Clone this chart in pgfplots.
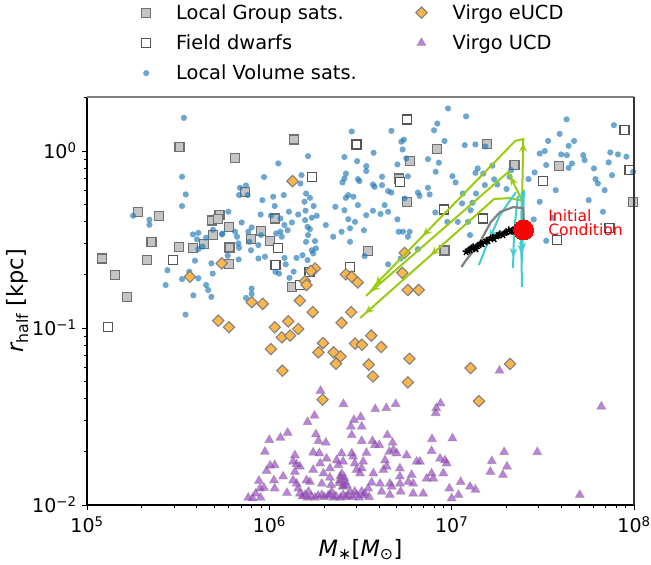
\documentclass[border=0pt]{standalone}
\usepackage{fontspec}
\setmainfont{DejaVu Sans}
\usepackage{pgfplots}
\pgfplotsset{compat=1.18}
\usetikzlibrary{decorations.markings,arrows.meta}

\definecolor{lvblue}{HTML}{1F77B4}
\definecolor{lggray}{HTML}{C4C4C4}
\definecolor{lgedge}{HTML}{707070}
\definecolor{fdedge}{HTML}{555555}
\definecolor{eucd}{HTML}{FDB64A}
\definecolor{ucd}{HTML}{9932CC}
\definecolor{trkgreen}{HTML}{99CC11}
\definecolor{trkcyan}{HTML}{40CCD0}

\newcommand\ah{\arrow{Stealth[length=9pt,width=7.5pt]}}

\pgfplotsset{
  lgsat/.style={only marks, mark=square*, mark size=4.5pt, mark options={fill=lggray, draw=lgedge, line width=1.3pt}},
  fdwarf/.style={only marks, mark=square*, mark size=4.5pt, mark options={fill=white, draw=fdedge, line width=1.3pt}},
  lvsat/.style={only marks, mark=*, mark size=3.1pt, mark options={fill=lvblue, fill opacity=0.65, draw opacity=0}},
  veucd/.style={only marks, mark=square*, mark size=4pt, mark options={rotate=45, fill=eucd, draw=gray, line width=1.1pt}},
  vucd/.style={only marks, mark=triangle*, mark size=5.1pt, mark options={fill=ucd, fill opacity=0.62, draw=gray, draw opacity=0.45, line width=0.9pt}},
}

\begin{document}
\begin{tikzpicture}
\begin{axis}[
  at={(0,0)}, anchor=south west,
  scale only axis, width=547pt, height=408pt,
  xmode=log, ymode=log,
  xmin=1e5, xmax=1e8, ymin=1e-2, ymax=2.02,
  clip mode=individual,
  axis line style={draw=none},
  tick pos=left, tick align=outside,
  major tick length=5pt, minor tick length=3pt,
  tick style={black, line width=1pt},
  xtick={1e5,1e6,1e7,1e8},
  xticklabels={10\textsuperscript{5},10\textsuperscript{6},10\textsuperscript{7},10\textsuperscript{8}},
  ytick={1e-2,1e-1,1},
  yticklabels={10\textsuperscript{−2},10\textsuperscript{−1},10\textsuperscript{0}},
  minor xtick={2e5,3e5,4e5,5e5,6e5,7e5,8e5,9e5,2e6,3e6,4e6,5e6,6e6,7e6,8e6,9e6,2e7,3e7,4e7,5e7,6e7,7e7,8e7,9e7},
  minor ytick={2e-2,3e-2,4e-2,5e-2,6e-2,7e-2,8e-2,9e-2,0.2,0.3,0.4,0.5,0.6,0.7,0.8,0.9,2},
  xticklabel style={font=\fontsize{19}{19}\selectfont, yshift=-3pt},
  yticklabel style={font=\fontsize{19}{19}\selectfont, xshift=-2pt},
  xlabel={{\itshape M}\textsubscript{∗}[{\itshape M}\textsubscript{⊙}]},
  ylabel={{\itshape r}\textsubscript{half} [kpc]},
  xlabel style={font=\fontsize{22.5}{23}\selectfont, at={(axis description cs:0.5,-0.127)}, anchor=base},
  ylabel style={font=\fontsize{22.5}{23}\selectfont, at={(axis description cs:-0.1164,0.5)}, anchor=base},
  legend columns=2, legend cell align=left,
  legend style={at={(0.0996,1.232)}, anchor=north west, draw=none, fill=none,
    inner xsep=0pt, inner ysep=0pt, row sep=10pt,
    font=\fontsize{19.4}{23}\selectfont,
    /tikz/every odd column/.append style={column sep=23.5pt},
    /tikz/every even column/.append style={column sep=57pt}},
]
% legend, row by row as matplotlib fills it column-wise
\addlegendimage{lgsat}\addlegendentry{Local Group sats.}
\addlegendimage{veucd}\addlegendentry{Virgo eUCD}
\addlegendimage{fdwarf}\addlegendentry{Field dwarfs}
\addlegendimage{vucd}\addlegendentry{Virgo UCD}
\addlegendimage{lvsat}\addlegendentry{Local Volume sats.}

% Local Group satellites
\addplot[lgsat, forget plot] table {
x y
1.21e5 0.247
1.43e5 0.199
1.66e5 0.150
1.91e5 0.454
2.48e5 0.431
2.26e5 0.307
2.13e5 0.243
3.20e5 0.287
3.22e5 1.05
6.48e5 0.916
1.37e6 1.16
7.36e5 0.589
5.32e5 0.434
4.83e5 0.405
5.25e5 0.412
6.01e5 0.373
4.89e5 0.335
4.37e5 0.298
3.81e5 0.282
6.04e5 0.285
6.01e5 0.229
7.90e5 0.317
9.00e5 0.353
1.07e6 0.416
1.01e6 0.311
1.33e6 0.171
8.34e6 1.03
1.56e7 1.10
5.93e6 0.877
5.16e6 0.70
5.69e6 0.517
2.21e7 0.833
3.87e7 0.826
3.47e6 0.273
9.15e6 0.274
9.87e7 0.517
};

% Field dwarfs
\addplot[fdwarf, forget plot] table {
x y
2.97e5 0.242
1.71e6 0.716
1.12e6 0.282
1.08e6 0.227
1.47e6 0.175
1.66e6 0.208
2.77e6 0.222
1.30e5 0.101
0.99e5 0.108
0.99e5 0.0778
5.69e6 1.51
8.87e7 1.32
9.46e7 0.780
3.18e7 0.676
9.08e6 0.468
1.49e7 0.416
3.78e7 0.314
7.35e7 0.368
5.22e6 0.670
3.01e6 1.09
};

% Local Volume satellites
\addplot[lvsat, forget plot] table {
x y
3.40e5 1.54
3.32e5 0.716
3.48e5 0.569
3.32e5 0.489
1.79e5 0.431
2.20e5 0.409
2.20e5 0.383
2.76e5 0.212
2.70e5 0.175
3.32e5 0.189
3.64e5 0.208
3.91e5 0.240
4.08e5 0.191
3.83e5 0.153
4.50e5 0.175
4.62e5 0.164
4.81e5 0.150
4.81e5 0.232
4.89e5 0.203
3.81e5 0.338
4.08e5 0.345
4.01e5 0.317
4.50e5 0.324
4.30e5 0.288
4.08e5 0.279
4.91e5 0.359
5.50e5 0.338
5.96e5 0.454
6.49e5 0.350
6.65e5 0.328
6.76e5 0.301
6.82e5 0.284
7.05e5 0.395
6.90e5 0.620
7.45e5 0.639
6.82e5 0.564
7.60e5 0.564
8.00e5 0.370
7.67e5 0.350
7.77e5 0.307
7.93e5 0.275
8.71e5 0.294
9.00e5 0.335
8.96e5 0.438
9.16e5 0.528
9.35e5 0.713
1.02e6 0.431
1.05e6 0.552
1.07e6 0.489
1.12e6 0.851
1.15e6 0.416
1.20e6 0.564
1.21e6 0.382
1.15e6 0.350
1.09e6 0.342
1.17e6 0.328
1.26e6 0.357
1.33e6 0.395
1.28e6 0.454
1.44e6 0.438
1.57e6 0.407
1.58e6 0.460
1.56e6 0.517
1.59e6 0.575
1.67e6 0.544
1.75e6 0.489
1.82e6 0.431
1.71e6 0.420
1.62e6 0.373
1.63e6 0.335
1.67e6 0.362
1.59e6 0.307
1.71e6 0.275
1.78e6 0.310
1.80e6 0.282
1.74e6 0.264
1.50e6 0.731
1.48e6 0.656
1.63e6 0.936
2.04e6 0.382
2.24e6 0.328
2.30e6 0.484
2.58e6 0.463
2.52e6 0.665
2.58e6 0.700
2.63e6 0.746
2.58e6 0.925
2.83e6 1.29
3.03e6 0.877
3.12e6 0.676
2.63e6 0.544
2.71e6 0.564
2.89e6 0.552
2.95e6 0.398
2.71e6 0.412
2.77e6 0.366
2.49e6 0.350
2.77e6 0.307
8.71e5 0.247
9.46e5 0.253
1.21e6 0.249
1.23e6 0.229
1.41e6 0.249
1.52e6 0.258
1.62e6 0.242
1.29e6 0.192
1.36e6 0.208
1.08e6 0.208
1.13e6 0.203
8.00e5 0.167
8.00e5 0.156
7.45e5 0.148
6.79e5 0.244
5.91e5 0.256
5.52e5 0.342
3.47e5 0.119
9.55e6 1.74
1.20e7 1.57
8.34e6 1.43
8.00e6 1.31
4.67e6 1.30
3.73e6 0.978
5.30e6 1.13
5.47e6 1.16
5.38e6 1.02
5.64e6 0.908
5.04e6 0.840
3.40e6 0.822
3.40e6 0.771
3.06e6 0.694
4.15e6 0.716
3.70e6 0.647
3.78e6 0.628
4.15e6 0.642
4.48e6 0.594
4.67e6 0.583
5.52e6 0.540
5.75e6 0.720
6.53e6 0.583
6.67e6 0.558
7.41e6 0.620
7.57e6 0.569
7.41e6 0.900
8.51e6 0.859
8.17e6 0.764
9.14e6 1.14
1.18e7 1.08
1.35e7 1.09
1.53e7 1.06
1.01e7 0.721
1.05e7 0.665
1.15e7 0.575
1.14e7 0.506
1.30e7 0.510
1.36e7 0.575
1.35e7 0.753
1.39e7 0.798
1.49e7 0.746
1.67e7 0.826
1.71e7 0.692
1.78e7 0.647
2.00e7 0.610
2.08e7 0.716
2.12e7 0.780
1.52e7 0.642
8.13e6 0.450
9.46e6 0.398
1.08e7 0.398
1.23e7 0.398
1.27e7 0.463
1.26e7 0.335
6.53e6 0.279
5.25e6 0.247
4.48e6 0.229
3.33e6 0.255
3.30e6 0.357
3.40e6 0.434
3.70e6 0.460
4.07e6 0.441
4.29e6 0.495
4.48e6 0.454
5.04e6 0.411
5.12e6 0.350
5.41e6 0.350
5.88e6 0.350
5.75e6 0.328
3.06e6 0.495
2.64e7 0.694
2.85e7 0.757
3.04e7 0.968
3.24e7 1.00
3.38e7 1.14
3.91e7 1.25
4.27e7 1.51
4.69e7 1.14
4.38e7 1.07
3.99e7 0.957
4.28e7 0.948
3.30e7 0.834
4.57e7 0.851
4.38e7 0.803
3.04e7 0.517
3.72e7 0.601
5.27e7 0.948
5.36e7 0.889
6.03e7 0.798
6.15e7 0.694
6.34e7 0.656
6.90e7 0.601
5.64e7 0.528
7.41e7 0.982
8.17e7 0.957
9.08e7 0.929
7.26e7 0.863
7.57e7 0.731
7.76e7 1.40
6.76e7 0.454
3.30e7 0.311
3.59e7 0.420
2.82e7 0.411
9.90e7 0.764
};

% Virgo eUCDs
\addplot[veucd, forget plot] table {
x y
1.34e6 0.676
5.48e5 0.232
3.67e5 0.195
1.78e6 0.217
1.69e6 0.210
1.57e6 0.184
1.60e6 0.175
2.63e6 0.201
2.83e6 0.195
3.05e6 0.181
8.00e5 0.140
9.20e5 0.137
1.47e6 0.143
5.25e5 0.110
6.01e5 0.101
1.07e6 0.101
1.27e6 0.109
1.17e6 0.0886
1.30e6 0.0906
1.44e6 0.0987
1.02e6 0.0760
1.18e6 0.0574
1.73e6 0.123
1.97e6 0.0822
1.86e6 0.0729
2.25e6 0.0729
2.46e6 0.0692
2.32e6 0.0629
1.96e6 0.0394
2.49e6 0.107
2.81e6 0.123
2.95e6 0.0817
3.62e6 0.0906
3.22e6 0.0805
4.11e6 0.0782
3.51e6 0.0621
3.70e6 0.0533
5.87e6 0.0671
5.75e6 0.0493
1.27e7 0.0594
2.09e7 0.0627
1.41e7 0.0386
5.52e6 0.266
5.36e6 0.205
5.75e6 0.164
6.59e6 0.164
};

% Virgo UCDs
\addplot[vucd, forget plot] table {
x y
7.67e5 0.0110
8.09e5 0.0109
8.95e5 0.0110
8.41e5 0.0116
8.89e5 0.0124
9.34e5 0.0125
8.77e5 0.0137
9.66e5 0.0156
1.01e6 0.0167
1.07e6 0.0168
9.46e5 0.0200
1.00e6 0.0233
1.15e6 0.0240
1.26e6 0.0256
1.06e6 0.0138
1.19e6 0.0145
1.07e6 0.0124
1.25e6 0.0117
1.38e6 0.0191
1.35e6 0.0176
1.41e6 0.0170
1.47e6 0.0165
1.38e6 0.0154
1.35e6 0.0138
1.41e6 0.0132
1.44e6 0.0124
1.47e6 0.0116
1.57e6 0.0114
1.64e6 0.0119
1.67e6 0.0135
1.60e6 0.0138
1.74e6 0.0158
1.74e6 0.0198
1.80e6 0.0251
1.86e6 0.0230
2.04e6 0.0225
1.88e6 0.0196
1.90e6 0.0172
1.98e6 0.0151
1.94e6 0.0132
1.94e6 0.0114
2.06e6 0.0183
2.15e6 0.0161
2.15e6 0.0143
2.18e6 0.0130
2.20e6 0.0119
2.15e6 0.0114
2.34e6 0.0179
2.39e6 0.0168
2.49e6 0.0196
2.54e6 0.0176
2.60e6 0.0135
2.44e6 0.0138
2.52e6 0.0127
2.65e6 0.0130
2.77e6 0.0119
2.54e6 0.0114
2.83e6 0.0196
2.88e6 0.0188
2.94e6 0.0172
3.01e6 0.0158
3.14e6 0.0151
3.27e6 0.0176
3.21e6 0.0161
3.21e6 0.0230
2.80e6 0.0277
2.83e6 0.0248
3.21e6 0.0277
2.91e6 0.0302
3.41e6 0.0197
3.68e6 0.0230
3.79e6 0.0218
4.01e6 0.0218
3.72e6 0.0151
3.64e6 0.0134
3.49e6 0.0124
3.53e6 0.0111
3.34e6 0.0116
3.21e6 0.0119
2.94e6 0.0119
3.01e6 0.0114
4.05e6 0.0132
4.13e6 0.0119
4.22e6 0.0158
4.40e6 0.0165
4.55e6 0.0200
4.74e6 0.0225
4.79e6 0.0205
4.44e6 0.0248
4.58e6 0.0132
4.69e6 0.0127
4.58e6 0.0114
4.31e6 0.0179
4.99e6 0.0196
5.20e6 0.0161
5.20e6 0.0145
5.20e6 0.0132
5.25e6 0.0119
5.66e6 0.0191
6.03e6 0.0148
5.78e6 0.0135
6.15e6 0.0132
6.15e6 0.0116
6.43e6 0.0176
6.70e6 0.0176
6.98e6 0.0116
7.29e6 0.0141
7.76e6 0.0151
7.93e6 0.0141
7.76e6 0.0202
7.80e6 0.0236
8.63e6 0.0183
9.18e6 0.0179
9.38e6 0.0172
9.00e6 0.0151
1.01e7 0.0238
1.12e7 0.0135
9.71e6 0.0124
1.00e7 0.0109
1.09e7 0.0114
1.26e7 0.0127
1.52e6 0.0112
1.62e6 0.0110
1.70e6 0.0112
1.78e6 0.0110
1.85e6 0.0113
2.00e6 0.0111
2.10e6 0.0113
2.25e6 0.0110
2.32e6 0.0112
2.45e6 0.0110
2.62e6 0.0111
2.70e6 0.0113
2.85e6 0.0111
3.10e6 0.0110
3.28e6 0.0113
2.45e6 0.0145
2.50e6 0.0150
2.58e6 0.0142
2.42e6 0.0133
2.57e6 0.0128
1.91e6 0.0442
2.55e6 0.0372
1.77e6 0.0320
1.62e6 0.0294
3.81e6 0.0348
4.38e6 0.0353
4.93e6 0.0372
3.17e6 0.0314
8.24e6 0.0353
8.69e6 0.0375
8.17e6 0.0331
1.83e7 0.0574
6.62e7 0.0360
1.66e7 0.0177
1.94e7 0.0199
2.01e7 0.0165
1.63e7 0.0154
1.91e7 0.0148
2.95e7 0.0199
5.04e7 0.0114
1.35e7 0.0122
};

% tracks from the initial condition
\addplot[trkgreen, line width=2pt, no markers, forget plot, postaction={decorate},
  decoration={markings, mark=at position 0.22 with {\ah}, mark=at position 0.73 with {\ah}, mark=at position 0.97 with {\ah}}]
  coordinates {(2.43e7,0.495) (2.47e7,1.17) (2.23e7,1.14) (4.0e6,0.185) (3.57e6,0.160)};
\addplot[trkgreen, line width=2pt, no markers, forget plot, postaction={decorate},
  decoration={markings, mark=at position 0.12 with {\ah}, mark=at position 0.97 with {\ah}}]
  coordinates {(2.43e7,0.528) (2.04e7,0.760) (3.39e6,0.152)};
\addplot[trkgreen, line width=2pt, no markers, forget plot, postaction={decorate},
  decoration={markings, mark=at position 0.55 with {\ah}, mark=at position 0.97 with {\ah}}]
  coordinates {(2.49e7,0.522) (2.09e7,0.542) (1.71e7,0.536) (3.15e6,0.114)};

\addplot[trkcyan, line width=2pt, no markers, forget plot, postaction={decorate},
  decoration={markings, mark=at position 0.65 with {\ah}}]
  coordinates {(2.43e7,0.586) (2.40e7,0.358) (2.43e7,0.171)};
\addplot[trkcyan, line width=2pt, no markers, forget plot, postaction={decorate},
  decoration={markings, mark=at position 0.85 with {\ah}}]
  coordinates {(2.31e7,0.557) (2.20e7,0.358) (2.17e7,0.218)};
\addplot[trkcyan, line width=2pt, no markers, forget plot, postaction={decorate},
  decoration={markings, mark=at position 0.65 with {\ah}}]
  coordinates {(2.25e7,0.586) (1.84e7,0.435) (1.60e7,0.314) (1.41e7,0.227)};
\addplot[trkcyan, line width=2pt, no markers, forget plot, postaction={decorate},
  decoration={markings, mark=at position 0.85 with {\ah}}]
  coordinates {(2.49e7,0.603) (2.43e7,0.236)};

\addplot[gray, line width=2.2pt, no markers, forget plot]
  coordinates {(2.49e7,0.377) (2.47e7,0.476) (2.17e7,0.482) (1.84e7,0.452) (1.64e7,0.397) (1.40e7,0.294) (1.20e7,0.242) (1.13e7,0.221)};

% black star track
\addplot[only marks, mark=star, mark size=3.6pt, mark options={draw=black, line width=1.5pt}, forget plot] table {
x y
1.20e7 0.269
1.23e7 0.274
1.26e7 0.276
1.29e7 0.283
1.31e7 0.287
1.36e7 0.279
1.38e7 0.290
1.41e7 0.294
1.44e7 0.300
1.47e7 0.298
1.52e7 0.306
1.55e7 0.312
1.58e7 0.310
1.64e7 0.322
1.68e7 0.324
1.71e7 0.318
1.77e7 0.331
1.81e7 0.334
1.84e7 0.340
1.91e7 0.335
1.95e7 0.344
1.99e7 0.348
2.06e7 0.358
2.10e7 0.350
2.14e7 0.353
2.23e7 0.367
2.27e7 0.362
2.31e7 0.372
};

\addplot[only marks, mark=*, mark size=10pt, mark options={fill=red, draw=red, line width=0pt}, forget plot]
  coordinates {(2.48e7,0.358)};

\node[anchor=north west, inner sep=0pt, text=red, align=left, font=\fontsize{15.6}{14.5}\selectfont]
  at (axis cs:3.38e7,0.47) {Initial\\Condition};

% spines
\draw[black, line width=1.3pt] (rel axis cs:0,1) -- (rel axis cs:0,0) -- (rel axis cs:1,0);
\draw[gray, line width=2.2pt] (rel axis cs:0,1) -- (rel axis cs:1,1);
\draw[black!80, line width=1.4pt] (rel axis cs:1,0) -- (rel axis cs:1,1);
\end{axis}
\pgfresetboundingbox
\path[use as bounding box] (-87pt,-60pt) rectangle (564pt,505pt);
\end{tikzpicture}
\end{document}
